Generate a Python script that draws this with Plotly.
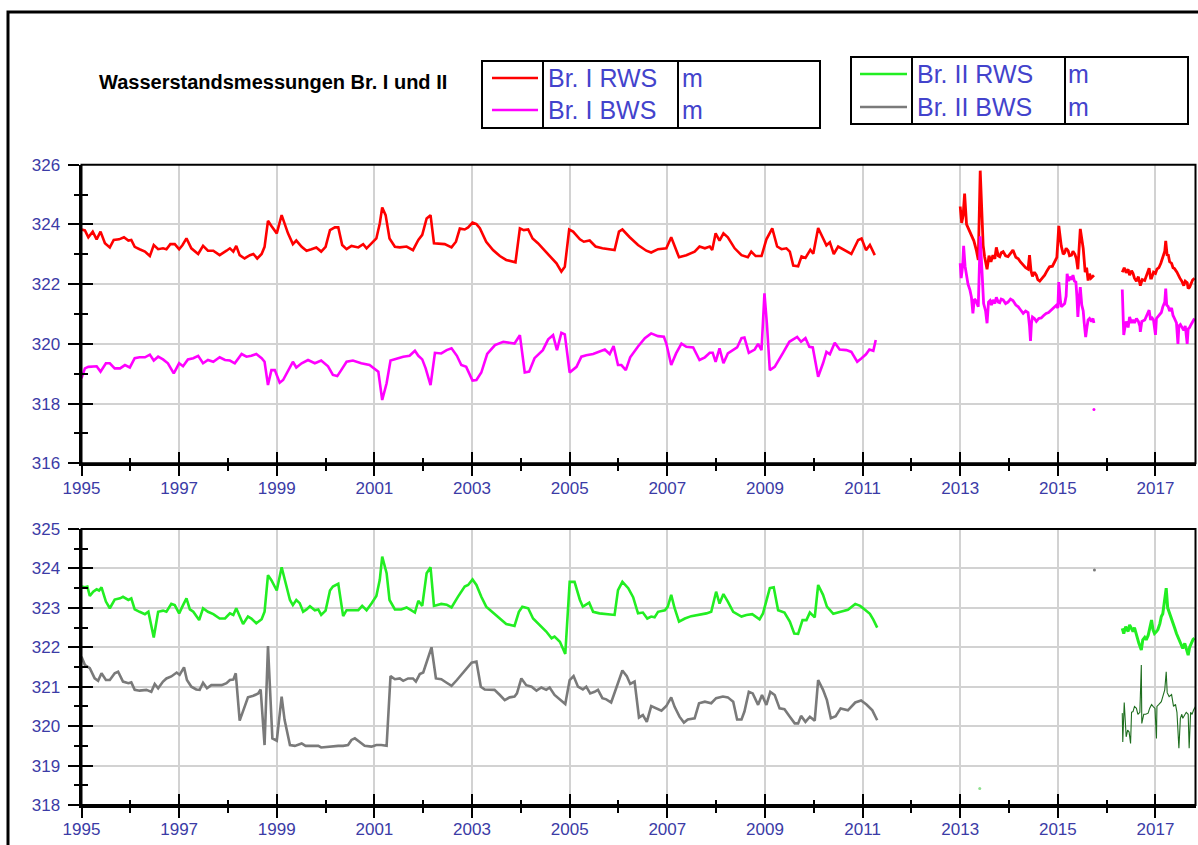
import plotly.graph_objects as go

# ---------------- data (decimal year, water level m) ----------------
title_text = "Wasserstandsmessungen Br. I und II"
legend1_names = ["Br. I RWS", "Br. I BWS"]
legend2_names = ["Br. II RWS", "Br. II BWS"]
unit = "m"
x_tick_start, x_tick_step = 1995, 2
x_range = [1995, 2017.82]
y_top_range = [316, 326]
y_bot_range = [318, 325]

br1_rws_a = [(1995.00,323.83),(1995.07,323.80),(1995.14,323.57),(1995.23,323.76),(1995.31,323.50),(1995.39,323.76),
(1995.48,323.37),(1995.58,323.23),(1995.66,323.48),(1995.77,323.50),(1995.87,323.57),(1995.96,323.46),(1996.02,323.48),
(1996.09,323.25),(1996.19,323.17),(1996.30,323.09),(1996.40,322.94),(1996.48,323.31),(1996.57,323.17),(1996.67,323.20),
(1996.74,323.17),(1996.82,323.34),(1996.91,323.34),(1997.00,323.17),(1997.07,323.31),(1997.15,323.53),(1997.25,323.20),
(1997.39,323.01),(1997.49,323.28),(1997.59,323.12),(1997.70,323.12),(1997.83,322.97),(1997.97,323.12),(1998.04,323.20),
(1998.11,323.09),(1998.17,323.28),(1998.24,322.97),(1998.34,322.86),(1998.45,322.97),(1998.52,323.01),(1998.60,322.86),
(1998.69,323.01),(1998.75,323.25),(1998.82,324.12),(1998.89,323.95),(1999.00,323.70),(1999.10,324.31),(1999.19,323.92),
(1999.23,323.70),(1999.33,323.34),(1999.40,323.46),(1999.51,323.25),(1999.61,323.12),(1999.71,323.17),(1999.81,323.23),
(1999.91,323.09),(2000.00,323.25),(2000.09,323.81),(2000.19,323.90),(2000.26,323.90),(2000.34,323.31),(2000.43,323.17),
(2000.53,323.28),(2000.67,323.23),(2000.77,323.34),(2000.84,323.20),(2000.94,323.37),(2001.04,323.53),(2001.11,324.03),
(2001.16,324.57),(2001.23,324.31),(2001.31,323.53),(2001.42,323.25),(2001.52,323.23),(2001.66,323.26),(2001.79,323.14),
(2001.90,323.48),(2001.98,323.65),(2002.07,324.20),(2002.15,324.31),(2002.22,323.37),(2002.34,323.34),(2002.44,323.34),
(2002.58,323.23),(2002.67,323.42),(2002.75,323.86),(2002.85,323.83),(2002.92,323.90),(2003.01,324.06),(2003.09,324.01),
(2003.16,323.87),(2003.29,323.42),(2003.43,323.14),(2003.57,322.94),(2003.70,322.81),(2003.89,322.73),(2003.98,323.87),
(2004.06,323.81),(2004.15,323.83),(2004.24,323.53),(2004.35,323.37),(2004.49,323.12),(2004.63,322.86),(2004.73,322.70),
(2004.83,322.42),(2004.90,322.58),(2004.99,323.83),(2005.07,323.76),(2005.21,323.50),(2005.29,323.42),(2005.41,323.46),
(2005.53,323.26),(2005.67,323.20),(2005.79,323.17),(2005.92,323.14),(2006.01,323.76),(2006.08,323.83),(2006.23,323.57),
(2006.40,323.31),(2006.57,323.12),(2006.67,323.06),(2006.81,323.17),(2006.98,323.20),(2007.08,323.57),(2007.15,323.26),
(2007.24,322.90),(2007.39,322.97),(2007.56,323.09),(2007.66,323.26),(2007.77,323.20),(2007.87,323.26),(2007.92,323.14),
(2007.99,323.70),(2008.07,323.46),(2008.15,323.70),(2008.24,323.57),(2008.38,323.20),(2008.52,322.97),(2008.65,322.90),
(2008.72,323.09),(2008.81,322.94),(2008.93,322.94),(2009.03,323.50),(2009.15,323.87),(2009.25,323.26),(2009.34,323.17),
(2009.44,323.20),(2009.51,323.09),(2009.58,322.62),(2009.68,322.60),(2009.75,322.93),(2009.83,322.88),(2009.93,323.15),
(2009.99,323.02),(2010.09,323.88),(2010.19,323.53),(2010.26,323.30),(2010.33,323.40),(2010.41,323.01),(2010.50,323.26),
(2010.64,323.12),(2010.77,323.01),(2010.91,323.48),(2010.98,323.53),(2011.07,323.14),(2011.15,323.31),(2011.25,322.97)]

br1_rws_b = [(2013.00,324.60),(2013.03,324.05),(2013.06,324.30),(2013.09,325.03),(2013.13,324.00),(2013.17,323.85),
(2013.23,323.60),(2013.28,323.45),(2013.33,323.14),(2013.37,322.81),(2013.41,325.80),(2013.45,324.26),(2013.47,323.30),
(2013.50,322.92),(2013.55,322.50),(2013.59,322.95),(2013.63,322.75),(2013.67,322.97),(2013.71,322.85),(2013.74,323.23),
(2013.78,322.95),(2013.81,322.92),(2013.84,323.05),(2013.88,323.09),(2013.93,322.95),(2013.98,322.92),(2014.03,323.05),
(2014.08,323.14),(2014.14,322.90),(2014.19,322.85),(2014.23,322.75),(2014.29,322.64),(2014.34,322.55),(2014.39,322.50),
(2014.42,322.97),(2014.45,322.45),(2014.48,322.26),(2014.52,322.40),(2014.56,322.30),(2014.59,322.15),(2014.63,322.10),
(2014.68,322.20),(2014.73,322.30),(2014.78,322.45),(2014.83,322.58),(2014.89,322.60),(2014.93,322.76),(2014.98,322.90),
(2015.02,323.95),(2015.05,323.40),(2015.07,323.28),(2015.11,323.00),(2015.14,323.05),(2015.17,323.20),(2015.21,323.12),
(2015.24,322.95),(2015.28,322.97),(2015.31,323.10),(2015.35,323.00),(2015.38,322.85),(2015.41,322.50),(2015.46,323.85),
(2015.49,323.50),(2015.52,323.20),(2015.56,322.40),(2015.59,322.55),(2015.62,322.12),(2015.65,322.35),(2015.68,322.20),
(2015.71,322.27),(2015.74,322.30)]

br1_rws_c = [(2016.32,322.40),(2016.36,322.55),(2016.40,322.38),(2016.44,322.50),(2016.47,322.30),(2016.51,322.45),
(2016.54,322.36),(2016.57,322.20),(2016.61,322.10),(2016.65,322.25),(2016.69,321.95),(2016.73,322.15),(2016.78,322.12),
(2016.82,322.30),(2016.87,322.53),(2016.90,322.20),(2016.92,322.20),(2016.96,322.40),(2017.00,322.36),(2017.03,322.50),
(2017.07,322.55),(2017.11,322.70),(2017.15,322.92),(2017.19,323.10),(2017.21,323.45),(2017.24,322.95),(2017.26,323.00),
(2017.29,322.75),(2017.33,322.70),(2017.36,322.55),(2017.39,322.52),(2017.44,322.40),(2017.50,322.20),(2017.54,322.10),
(2017.58,321.95),(2017.61,322.10),(2017.65,322.05),(2017.67,321.85),(2017.70,321.90),(2017.73,322.05),(2017.76,322.14),
(2017.80,322.20)]

br1_bws_a = [(1995.00,318.85),(1995.07,319.18),(1995.14,319.23),(1995.31,319.25),(1995.39,319.07),(1995.50,319.35),
(1995.58,319.35),(1995.68,319.18),(1995.79,319.18),(1995.89,319.29),(1995.99,319.21),(1996.09,319.52),(1996.19,319.55),
(1996.30,319.55),(1996.40,319.64),(1996.48,319.44),(1996.57,319.57),(1996.67,319.48),(1996.77,319.35),(1996.89,319.01),
(1997.00,319.35),(1997.08,319.25),(1997.18,319.48),(1997.29,319.52),(1997.39,319.60),(1997.49,319.35),(1997.59,319.46),
(1997.70,319.40),(1997.83,319.55),(1997.94,319.46),(1998.04,319.44),(1998.14,319.35),(1998.28,319.66),(1998.38,319.57),
(1998.48,319.60),(1998.58,319.66),(1998.69,319.52),(1998.75,319.40),(1998.82,318.62),(1998.89,319.12),(1998.96,319.12),
(1999.06,318.70),(1999.13,318.79),(1999.27,319.25),(1999.33,319.40),(1999.40,319.21),(1999.51,319.35),(1999.64,319.46),
(1999.78,319.35),(1999.91,319.44),(2000.05,319.25),(2000.15,318.96),(2000.24,318.92),(2000.32,319.12),(2000.43,319.40),
(2000.56,319.44),(2000.73,319.35),(2000.90,319.29),(2001.08,319.07),(2001.16,318.12),(2001.25,318.68),(2001.33,319.44),
(2001.42,319.48),(2001.59,319.57),(2001.72,319.60),(2001.83,319.77),(2001.90,319.60),(2001.98,319.48),(2002.05,319.18),
(2002.15,318.62),(2002.24,319.70),(2002.37,319.68),(2002.48,319.79),(2002.58,319.85),(2002.69,319.60),(2002.78,319.29),
(2002.88,319.23),(2003.01,318.77),(2003.09,318.79),(2003.19,319.04),(2003.31,319.66),(2003.47,319.96),(2003.64,320.07),
(2003.77,320.03),(2003.87,320.01),(2003.98,320.29),(2004.08,319.04),(2004.17,319.07),(2004.28,319.52),(2004.45,319.79),
(2004.56,320.15),(2004.66,320.29),(2004.74,319.79),(2004.83,320.37),(2004.90,320.32),(2005.00,319.04),(2005.14,319.23),
(2005.24,319.57),(2005.34,319.62),(2005.48,319.66),(2005.61,319.73),(2005.72,319.81),(2005.82,319.66),(2005.90,319.93),
(2005.99,319.29),(2006.06,319.29),(2006.15,319.12),(2006.24,319.55),(2006.40,319.91),(2006.54,320.19),(2006.67,320.35),
(2006.81,320.26),(2006.93,320.24),(2006.98,320.01),(2007.08,319.29),(2007.18,319.68),(2007.29,320.01),(2007.39,319.90),
(2007.53,319.88),(2007.66,319.46),(2007.77,319.55),(2007.87,319.70),(2007.93,319.70),(2007.99,319.40),(2008.07,319.85),
(2008.15,319.35),(2008.24,319.68),(2008.35,319.79),(2008.43,319.88),(2008.52,320.19),(2008.58,320.21),(2008.67,319.70),
(2008.79,319.81),(2008.86,320.00),(2008.93,319.79),(2008.99,321.69),(2009.04,320.68),(2009.10,319.12),(2009.20,319.23),
(2009.37,319.70),(2009.50,320.07),(2009.66,320.23),(2009.74,320.07),(2009.83,320.19),(2009.91,319.90),(2009.98,319.88),
(2010.09,318.90),(2010.19,319.35),(2010.26,319.73),(2010.33,319.65),(2010.43,320.04),(2010.53,319.81),(2010.67,319.79),
(2010.77,319.73),(2010.89,319.40),(2010.98,319.52),(2011.07,319.65),(2011.14,319.81),(2011.22,319.77),(2011.27,320.13)]

br1_bws_b = [(2013.00,322.70),(2013.02,322.20),(2013.05,322.60),(2013.07,323.28),(2013.10,322.60),(2013.13,322.30),
(2013.16,322.00),(2013.20,321.80),(2013.23,321.56),(2013.26,321.02),(2013.29,321.50),(2013.32,321.45),(2013.35,321.30),
(2013.37,321.24),(2013.41,323.60),(2013.44,322.40),(2013.46,321.60),(2013.48,321.35),(2013.52,321.10),(2013.55,320.69),
(2013.58,321.40),(2013.61,321.45),(2013.64,321.30),(2013.67,321.47),(2013.71,321.35),(2013.74,321.56),(2013.78,321.40),
(2013.81,321.38),(2013.84,321.50),(2013.88,321.47),(2013.93,321.35),(2013.98,321.40),(2014.03,321.50),(2014.08,321.45),
(2014.14,321.30),(2014.19,321.24),(2014.23,321.15),(2014.29,321.02),(2014.34,321.10),(2014.39,321.05),(2014.42,320.60),
(2014.44,320.10),(2014.46,320.70),(2014.48,320.90),(2014.52,320.85),(2014.56,320.75),(2014.61,320.85),(2014.66,320.87),
(2014.71,320.95),(2014.76,321.02),(2014.81,321.05),(2014.87,321.13),(2014.92,321.20),(2014.97,321.29),(2015.00,321.20),
(2015.02,322.07),(2015.05,321.50),(2015.07,321.24),(2015.11,321.30),(2015.14,321.35),(2015.17,321.60),(2015.19,322.35),
(2015.22,322.10),(2015.24,322.25),(2015.28,322.15),(2015.31,322.30),(2015.34,322.10),(2015.37,322.07),(2015.39,321.60),
(2015.41,320.90),(2015.43,321.40),(2015.46,321.90),(2015.49,321.30),(2015.52,321.10),(2015.54,320.70),(2015.57,320.23),
(2015.60,320.60),(2015.62,320.80),(2015.65,320.85),(2015.69,320.75),(2015.72,320.85),(2015.74,320.70)]

br1_bws_c = [(2016.32,321.82),(2016.33,321.00),(2016.35,320.30),(2016.38,320.60),(2016.40,320.75),(2016.44,320.55),
(2016.47,320.90),(2016.51,320.70),(2016.54,320.80),(2016.57,320.70),(2016.61,320.85),(2016.65,320.75),(2016.68,320.60),
(2016.69,320.40),(2016.72,320.75),(2016.78,320.80),(2016.82,320.95),(2016.87,321.13),(2016.90,320.80),(2016.92,320.90),
(2016.96,320.80),(2016.98,320.60),(2017.00,320.30),(2017.02,320.85),(2017.07,320.95),(2017.12,321.05),(2017.15,321.24),
(2017.19,321.40),(2017.21,321.85),(2017.23,321.30),(2017.26,321.25),(2017.29,321.10),(2017.33,321.20),(2017.36,320.95),
(2017.39,320.85),(2017.43,320.70),(2017.46,320.00),(2017.48,320.60),(2017.51,320.65),(2017.54,320.55),(2017.58,320.45),
(2017.61,320.60),(2017.65,320.00),(2017.67,320.50),(2017.70,320.55),(2017.73,320.65),(2017.76,320.75),(2017.80,320.85)]

br1_bws_dots = [(2015.74,317.80)]

br2_rws_a = [(1995.00,323.54),(1995.07,323.52),(1995.12,323.54),(1995.17,323.30),(1995.24,323.41),(1995.31,323.47),
(1995.36,323.44),(1995.41,323.52),(1995.50,323.16),(1995.58,322.99),(1995.68,323.21),(1995.79,323.24),(1995.85,323.28),
(1995.96,323.20),(1996.02,323.24),(1996.09,322.96),(1996.19,322.90),(1996.30,322.84),(1996.37,322.90),(1996.48,322.25),
(1996.57,322.90),(1996.67,322.93),(1996.74,322.90),(1996.84,323.10),(1996.91,323.07),(1997.00,322.86),(1997.08,323.07),
(1997.15,323.24),(1997.22,322.96),(1997.29,322.90),(1997.41,322.69),(1997.49,322.99),(1997.59,322.90),(1997.70,322.84),
(1997.83,322.73),(1997.94,322.73),(1998.04,322.86),(1998.11,322.82),(1998.17,322.99),(1998.31,322.59),(1998.41,322.78),
(1998.48,322.73),(1998.58,322.61),(1998.69,322.71),(1998.75,322.90),(1998.82,323.83),(1998.89,323.70),(1999.00,323.44),
(1999.10,324.03),(1999.19,323.58),(1999.27,323.20),(1999.33,323.07),(1999.40,323.20),(1999.47,323.12),(1999.54,322.90),
(1999.61,322.96),(1999.68,323.04),(1999.78,322.94),(1999.85,322.96),(1999.91,322.82),(2000.00,322.93),(2000.09,323.44),
(2000.15,323.54),(2000.26,323.61),(2000.36,322.79),(2000.43,322.94),(2000.53,322.94),(2000.67,322.94),(2000.75,323.05),
(2000.84,322.94),(2000.94,323.11),(2001.04,323.30),(2001.11,323.71),(2001.16,324.30),(2001.25,323.88),(2001.31,323.20),
(2001.42,322.96),(2001.55,322.96),(2001.66,323.01),(2001.76,322.93),(2001.83,322.88),(2001.90,323.18),(2001.98,323.05),
(2002.07,323.88),(2002.15,324.03),(2002.22,323.05),(2002.37,323.10),(2002.48,323.08),(2002.58,323.01),(2002.71,323.28),
(2002.85,323.54),(2002.92,323.58),(2003.01,323.72),(2003.09,323.58),(2003.19,323.28),(2003.29,323.03),(2003.43,322.88),
(2003.57,322.73),(2003.70,322.59),(2003.87,322.54),(2003.96,322.90),(2004.03,323.03),(2004.15,322.99),(2004.25,322.73),
(2004.39,322.57),(2004.52,322.40),(2004.63,322.23),(2004.69,322.27),(2004.80,322.14),(2004.91,321.83),(2005.00,323.66),
(2005.10,323.66),(2005.21,323.20),(2005.27,323.03),(2005.40,323.13),(2005.48,322.90),(2005.61,322.86),(2005.75,322.84),
(2005.92,322.82),(2005.99,323.45),(2006.08,323.66),(2006.20,323.50),(2006.30,323.27),(2006.40,322.86),(2006.50,322.88),
(2006.59,322.73),(2006.67,322.78),(2006.74,322.76),(2006.81,322.90),(2006.95,322.94),(2007.01,323.03),(2007.08,323.33),
(2007.15,322.99),(2007.24,322.65),(2007.36,322.73),(2007.49,322.79),(2007.66,322.82),(2007.80,322.86),(2007.90,322.90),
(2008.00,323.41),(2008.07,323.11),(2008.15,323.35),(2008.24,323.16),(2008.35,322.90),(2008.52,322.78),(2008.62,322.82),
(2008.74,322.84),(2008.89,322.71),(2008.96,322.86),(2009.10,323.50),(2009.18,323.52),(2009.27,322.94),(2009.40,322.88),
(2009.51,322.65),(2009.60,322.35),(2009.68,322.34),(2009.77,322.69),(2009.85,322.69),(2009.92,322.88),(2010.02,322.76),
(2010.09,323.58),(2010.19,323.33),(2010.27,323.03),(2010.40,322.85),(2010.55,322.90),(2010.70,322.95),(2010.85,323.10),
(2010.95,323.05),(2011.05,322.95),(2011.15,322.85),(2011.22,322.70),(2011.30,322.50)]

br2_rws_c = [(2016.32,322.48),(2016.35,322.35),(2016.39,322.52),(2016.44,322.40),(2016.47,322.57),(2016.51,322.45),
(2016.54,322.40),(2016.57,322.50),(2016.61,322.31),(2016.63,322.20),(2016.66,322.10),(2016.71,321.93),(2016.74,322.19),
(2016.78,322.25),(2016.81,322.19),(2016.85,322.30),(2016.88,322.44),(2016.92,322.69),(2016.95,322.44),(2016.98,322.35),
(2017.02,322.40),(2017.05,322.45),(2017.09,322.60),(2017.12,322.78),(2017.15,322.85),(2017.17,323.03),(2017.20,323.20),
(2017.22,323.50),(2017.25,323.00),(2017.28,322.90),(2017.32,322.78),(2017.36,322.60),(2017.39,322.50),(2017.43,322.35),
(2017.46,322.25),(2017.50,322.14),(2017.53,322.05),(2017.56,321.97),(2017.60,322.10),(2017.63,321.95),(2017.67,321.80),
(2017.70,322.00),(2017.73,322.10),(2017.77,322.20),(2017.80,322.23)]

br2_rws_dots = [(2013.40,318.42)]

br2_bws_a = [(1995.00,321.76),(1995.07,321.55),(1995.17,321.47),(1995.27,321.21),(1995.34,321.15),(1995.41,321.34),
(1995.50,321.17),(1995.58,321.17),(1995.68,321.34),(1995.75,321.38),(1995.85,321.13),(1995.96,321.09),(1996.02,321.11),
(1996.09,320.92),(1996.19,320.90),(1996.33,320.92),(1996.43,320.87),(1996.50,321.07),(1996.57,320.96),(1996.67,321.13),
(1996.74,321.21),(1996.84,321.26),(1996.95,321.36),(1997.01,321.30),(1997.10,321.49),(1997.16,321.17),(1997.25,321.00),
(1997.35,320.93),(1997.42,320.92),(1997.49,321.10),(1997.57,320.96),(1997.66,321.04),(1997.76,321.04),(1997.87,321.04),
(1997.97,321.09),(1998.04,321.17),(1998.11,321.18),(1998.16,321.34),(1998.24,320.14),(1998.31,320.37),(1998.41,320.73),
(1998.52,320.77),(1998.62,320.83),(1998.67,320.93),(1998.75,319.52),(1998.82,322.03),(1998.91,319.69),(1999.00,319.63),
(1999.10,320.75),(1999.16,320.16),(1999.27,319.52),(1999.37,319.50),(1999.51,319.56),(1999.59,319.50),(1999.71,319.50),
(1999.85,319.50),(1999.91,319.46),(2000.05,319.48),(2000.15,319.48),(2000.26,319.50),(2000.36,319.50),(2000.46,319.52),
(2000.53,319.65),(2000.60,319.69),(2000.70,319.60),(2000.80,319.50),(2000.94,319.48),(2001.04,319.52),(2001.14,319.52),
(2001.25,319.50),(2001.33,321.27),(2001.42,321.19),(2001.52,321.21),(2001.59,321.15),(2001.69,321.21),(2001.79,321.21),
(2001.85,321.13),(2001.93,321.32),(2002.00,321.36),(2002.08,321.68),(2002.17,322.00),(2002.26,321.21),(2002.37,321.19),
(2002.48,321.10),(2002.58,321.02),(2002.69,321.17),(2002.78,321.30),(2002.88,321.47),(2002.99,321.61),(2003.09,321.64),
(2003.18,321.00),(2003.26,320.93),(2003.36,320.92),(2003.46,320.92),(2003.57,320.79),(2003.67,320.66),(2003.77,320.73),
(2003.87,320.75),(2003.92,320.83),(2004.01,321.21),(2004.11,321.04),(2004.22,321.00),(2004.32,320.90),(2004.42,320.98),
(2004.52,320.92),(2004.59,320.98),(2004.69,320.79),(2004.80,320.68),(2004.91,320.56),(2005.00,321.17),(2005.08,321.27),
(2005.17,321.00),(2005.27,320.93),(2005.34,321.00),(2005.42,320.83),(2005.51,320.87),(2005.58,320.92),(2005.67,320.71),
(2005.75,320.68),(2005.85,320.60),(2005.95,320.96),(2006.08,321.41),(2006.17,321.27),(2006.24,321.07),(2006.33,321.13),
(2006.42,320.22),(2006.50,320.28),(2006.58,320.11),(2006.67,320.51),(2006.78,320.45),(2006.88,320.39),(2006.98,320.51),
(2007.08,320.73),(2007.15,320.49),(2007.25,320.24),(2007.34,320.09),(2007.42,320.17),(2007.56,320.20),(2007.65,320.58),
(2007.77,320.62),(2007.90,320.58),(2008.00,320.71),(2008.14,320.75),(2008.24,320.73),(2008.35,320.62),(2008.43,320.17),
(2008.52,320.17),(2008.58,320.37),(2008.67,320.87),(2008.75,320.83),(2008.86,320.54),(2008.94,320.79),(2009.03,320.54),
(2009.11,320.87),(2009.20,320.79),(2009.30,320.45),(2009.40,320.43),(2009.51,320.24),(2009.61,320.07),(2009.68,320.07),
(2009.74,320.26),(2009.83,320.11),(2009.92,320.24),(2010.02,320.14),(2010.09,321.17),(2010.19,320.92),(2010.27,320.66),
(2010.35,320.20),(2010.45,320.25),(2010.55,320.45),(2010.70,320.40),(2010.85,320.60),(2010.97,320.65),(2011.08,320.55),
(2011.20,320.40),(2011.30,320.15)]

br2_bws_dots = [(2015.75,323.96)]

br2_bws_c = [(2016.32,320.33),(2016.33,319.60),(2016.36,320.60),(2016.38,320.10),(2016.40,319.73),(2016.43,319.90),
(2016.46,319.85),(2016.49,319.56),(2016.51,320.35),(2016.54,320.37),(2016.57,320.50),(2016.61,320.45),(2016.64,320.30),
(2016.68,320.35),(2016.71,321.55),(2016.72,320.07),(2016.76,320.30),(2016.80,320.30),(2016.85,320.33),(2016.88,320.45),
(2016.92,320.55),(2016.95,320.50),(2016.99,320.45),(2017.02,319.69),(2017.03,320.50),(2017.07,320.55),(2017.12,320.62),
(2017.15,320.75),(2017.19,320.92),(2017.22,321.38),(2017.24,320.85),(2017.28,320.75),(2017.33,320.80),(2017.37,320.50),
(2017.41,320.55),(2017.44,320.35),(2017.48,319.44),(2017.51,320.20),(2017.54,320.30),(2017.56,320.20),(2017.60,320.30),
(2017.63,320.35),(2017.67,320.30),(2017.69,319.44),(2017.72,320.35),(2017.75,320.30),(2017.78,320.41),(2017.82,320.50)]

# ---------------- styling ----------------
W, H = 1198, 845
FONT = "Liberation Sans, Arial, sans-serif"
TICK_COLOR = "#3b3ba6"
LEG_COLOR = "#4343cc"
C_RED, C_MAG, C_GREEN, C_GREY, C_DKGREEN = "#ff0000", "#ff00ff", "#22ee22", "#7a7a7a", "#1f6e1f"

def px(x):
    return x / W

def py(y):
    return 1 - y / H

fig = go.Figure()

def add_line(segments, color, width, xa, ya, name):
    xs, ys = [], []
    for seg in segments:
        for t, v in seg:
            xs.append(t)
            ys.append(v)
        xs.append(None)
        ys.append(None)
    fig.add_trace(go.Scatter(x=xs, y=ys, mode="lines", name=name, showlegend=False,
                             line=dict(color=color, width=width), xaxis=xa, yaxis=ya,
                             hoverinfo="skip"))

def add_dots(pts, color, xa, ya, name):
    fig.add_trace(go.Scatter(x=[p[0] for p in pts], y=[p[1] for p in pts], mode="markers",
                             name=name, showlegend=False, marker=dict(color=color, size=3),
                             xaxis=xa, yaxis=ya, hoverinfo="skip"))

add_line([br1_rws_a], C_RED, 2.6, "x", "y", legend1_names[0])
add_line([br1_rws_b, br1_rws_c], C_RED, 2.8, "x", "y", legend1_names[0])
add_line([br1_bws_a], C_MAG, 2.6, "x", "y", legend1_names[1])
add_line([br1_bws_b, br1_bws_c], C_MAG, 2.8, "x", "y", legend1_names[1])
add_dots(br1_bws_dots, C_MAG, "x", "y", legend1_names[1])

add_line([br2_rws_a], C_GREEN, 2.6, "x2", "y2", legend2_names[0])
add_line([br2_rws_c], C_GREEN, 3.0, "x2", "y2", legend2_names[0])
add_dots(br2_rws_dots, "#8fe08f", "x2", "y2", legend2_names[0])
add_line([br2_bws_a], C_GREY, 2.6, "x2", "y2", legend2_names[1])
add_line([br2_bws_c], C_DKGREEN, 1.1, "x2", "y2", legend2_names[1])
add_dots(br2_bws_dots, C_GREY, "x2", "y2", legend2_names[1])

# empty traces to create overlay axes for the inward half of the crossing ticks
fig.add_trace(go.Scatter(x=[], y=[], xaxis="x3", yaxis="y3", showlegend=False))
fig.add_trace(go.Scatter(x=[], y=[], xaxis="x4", yaxis="y4", showlegend=False))

dom_x = [px(81.5), px(1195.5)]
dom_top = [py(463.3), py(164.7)]
dom_bot = [py(805), py(529)]

tickfont = dict(family=FONT, size=17, color=TICK_COLOR)
GRID = "#d2d2d2"

def xaxis_main(anchor):
    return dict(domain=dom_x, anchor=anchor, range=x_range, tick0=x_tick_start, dtick=x_tick_step,
                automargin=False,
                showgrid=True, gridcolor=GRID, gridwidth=1.5, zeroline=False,
                showline=True, linecolor="black", linewidth=3,
                ticks="outside", ticklen=10, tickwidth=2, tickcolor="black",
                tickfont=tickfont, ticklabelstandoff=-3,
                minor=dict(dtick=1, tick0=x_tick_start, ticks="outside", ticklen=5, tickwidth=2,
                           tickcolor="black", showgrid=False))

def xaxis_over(over, anchor):
    return dict(overlaying=over, anchor=anchor, range=x_range, tick0=x_tick_start, dtick=x_tick_step,
                automargin=False,
                showgrid=False, zeroline=False, showline=False, showticklabels=False,
                ticks="inside", ticklen=11, tickwidth=2, tickcolor="black",
                minor=dict(dtick=1, tick0=x_tick_start, ticks="inside", ticklen=5, tickwidth=2,
                           tickcolor="black", showgrid=False))

def yaxis_main(dom, anchor, rng, dt):
    return dict(domain=dom, anchor=anchor, range=rng, tick0=rng[0], dtick=dt,
                automargin=False,
                showgrid=True, gridcolor=GRID, gridwidth=1.5, zeroline=False,
                showline=True, linecolor="black", linewidth=3,
                ticks="outside", ticklen=11, tickwidth=2, tickcolor="black",
                tickfont=tickfont, ticklabelstandoff=4,
                minor=dict(dtick=dt / 2, tick0=rng[0], ticks="outside", ticklen=5, tickwidth=2,
                           tickcolor="black", showgrid=False))

def yaxis_over(over, anchor, rng, dt):
    return dict(overlaying=over, anchor=anchor, range=rng, tick0=rng[0], dtick=dt,
                automargin=False,
                showgrid=False, zeroline=False, showline=False, showticklabels=False, side="left",
                ticks="inside", ticklen=11, tickwidth=2, tickcolor="black",
                minor=dict(dtick=dt / 2, tick0=rng[0], ticks="inside", ticklen=6, tickwidth=2,
                           tickcolor="black", showgrid=False))

shapes = [
    # outer frame
    dict(type="rect", xref="paper", yref="paper", x0=px(8), x1=px(1240), y0=py(900), y1=py(12),
         line=dict(color="black", width=3), layer="above"),
    # plot frames (top/right borders)
    dict(type="rect", xref="x domain", yref="y domain", x0=0, x1=1, y0=0, y1=1,
         line=dict(color="black", width=2), layer="above"),
    dict(type="rect", xref="x2 domain", yref="y2 domain", x0=0, x1=1, y0=0, y1=1,
         line=dict(color="black", width=2), layer="above"),
]

annotations = [dict(text="<b>" + title_text + "</b>", x=px(97), y=py(82), xref="paper", yref="paper",
                    xanchor="left", yanchor="middle", showarrow=False,
                    font=dict(family=FONT, size=20, color="black"))]

def legend_box(x0, x1, y0, y1, div1, div2, rows, names, colors, line_x, text_x, unit_x):
    shapes.append(dict(type="rect", xref="paper", yref="paper", x0=px(x0), x1=px(x1), y0=py(y1), y1=py(y0),
                       line=dict(color="black", width=2), fillcolor="white"))
    for d in (div1, div2):
        shapes.append(dict(type="line", xref="paper", yref="paper", x0=px(d), x1=px(d), y0=py(y1), y1=py(y0),
                           line=dict(color="black", width=2)))
    for r, n, c in zip(rows, names, colors):
        shapes.append(dict(type="line", xref="paper", yref="paper", x0=px(line_x[0]), x1=px(line_x[1]),
                           y0=py(r), y1=py(r), line=dict(color=c, width=2.5)))
        annotations.append(dict(text=n, x=px(text_x), y=py(r), xref="paper", yref="paper", xanchor="left",
                                yanchor="middle", showarrow=False, font=dict(family=FONT, size=25, color=LEG_COLOR)))
        annotations.append(dict(text=unit, x=px(unit_x), y=py(r), xref="paper", yref="paper", xanchor="left",
                                yanchor="middle", showarrow=False, font=dict(family=FONT, size=25, color=LEG_COLOR)))

legend_box(482, 820, 61, 128, 543, 678, [78, 110], legend1_names, [C_RED, C_MAG], (492, 538), 546, 680)
legend_box(851, 1188, 57, 124, 912, 1065, [74, 107], legend2_names, [C_GREEN, C_GREY], (860, 907), 915, 1066)

fig.update_layout(
    width=W, height=H, margin=dict(l=0, r=0, t=0, b=0, pad=0, autoexpand=False),
    paper_bgcolor="white", plot_bgcolor="white", showlegend=False,
    font=dict(family=FONT),
    xaxis=xaxis_main("y"), yaxis=yaxis_main(dom_top, "x", y_top_range, 2),
    xaxis2=xaxis_main("y2"), yaxis2=yaxis_main(dom_bot, "x2", y_bot_range, 1),
    xaxis3=xaxis_over("x", "y3"), yaxis3=yaxis_over("y", "x3", y_top_range, 2),
    xaxis4=xaxis_over("x2", "y4"), yaxis4=yaxis_over("y2", "x4", y_bot_range, 1),
    shapes=shapes, annotations=annotations,
)

fig.write_html("out.html", config={"displayModeBar": False},
               post_script="document.body.style.margin='0px';document.body.style.overflow='hidden';")
